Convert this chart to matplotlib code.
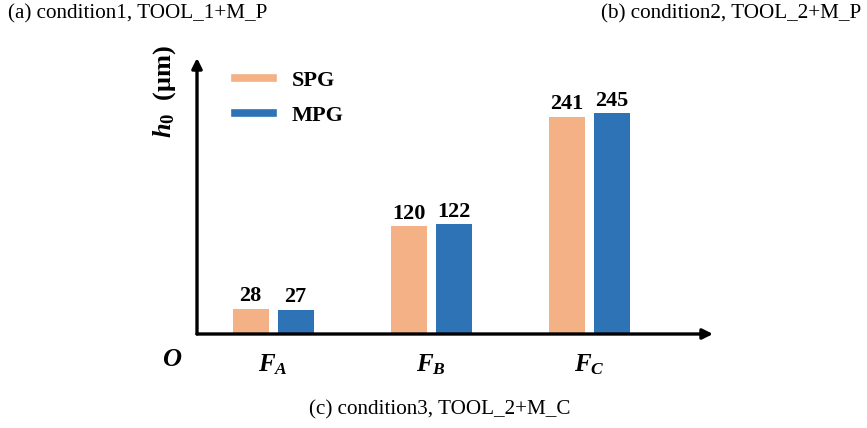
import matplotlib
matplotlib.use("Agg")
import matplotlib.pyplot as plt
import numpy as np
from matplotlib.lines import Line2D

categories = [r"$F_A$", r"$F_B$", r"$F_C$"]
spg = [28, 120, 241]
mpg = [27, 122, 245]
series_names = ["SPG", "MPG"]
colors = ["#F3B185", "#2E73B5"]

plt.rcParams['font.family'] = ['Liberation Serif', 'DejaVu Serif']
plt.rcParams['mathtext.fontset'] = 'custom'
plt.rcParams['mathtext.it'] = 'Liberation Serif:italic:bold'
plt.rcParams['mathtext.rm'] = 'Liberation Serif:bold'
plt.rcParams['mathtext.bf'] = 'Liberation Serif:bold'

W, H = 867, 428
fig = plt.figure(figsize=(W/100, H/100), dpi=100)

x0, x1 = 197, 713
yb, yt = 334, 58
ax = fig.add_axes([x0/W, (H-yb)/H, (x1-x0)/W, (yb-yt)/H])
ax.set_ylim(0, (yb-yt)/0.9017)
ax.set_xlim(-76/158, (x1-x0-76)/158)

x = np.arange(len(categories))
bw = 36/158
off = 22.5/158
ax.bar(x-off, spg, bw, color=colors[0], label=series_names[0])
ax.bar(x+off, mpg, bw, color=colors[1], label=series_names[1])
for xi, v in zip(x-off, spg):
    ax.text(xi, v+2.5, str(v), ha='center', va='bottom', fontsize=16, fontweight='bold')
for xi, v in zip(x+off, mpg):
    ax.text(xi, v+2.5, str(v), ha='center', va='bottom', fontsize=16, fontweight='bold')

for s in ax.spines.values():
    s.set_visible(False)
ax.set_yticks([])
ax.set_xticks(x)
ax.set_xticklabels(categories, fontsize=18)
ax.tick_params(axis='x', length=0, pad=13)

ax.annotate('', xy=(1, 0), xycoords='axes fraction', xytext=(0, 0),
            arrowprops=dict(arrowstyle='-|>', color='black', lw=2.4, mutation_scale=15, shrinkA=0, shrinkB=0))
ax.annotate('', xy=(0, 1), xycoords='axes fraction', xytext=(0, 0),
            arrowprops=dict(arrowstyle='-|>', color='black', lw=2.4, mutation_scale=15, shrinkA=0, shrinkB=0))

handles = [Line2D([0], [0], color=c, lw=5.5) for c in colors]
leg = ax.legend(handles, series_names, loc='upper left',
                bbox_to_anchor=((235-x0)/(x1-x0), 1-(70-yt)/(yb-yt)),
                frameon=False, handlelength=1.7, handletextpad=0.86, labelspacing=0.66,
                borderpad=0, borderaxespad=0,
                prop={'family': 'Liberation Serif', 'weight': 'bold', 'size': 16})

fig.text(172/W, 1-360/H, r"$O$", fontsize=19, ha='center', va='center')
fig.text(165/W, 1-91/H, r"$h_0$  (μm)", fontsize=19, fontweight='bold', rotation=90, ha='center', va='center')

fig.text(8/W, 1-14/H, "(a) condition1, TOOL_1+M_P", fontsize=15.2, ha='left', va='center')
fig.text(861/W, 1-14/H, "(b) condition2, TOOL_2+M_P", fontsize=15.2, ha='right', va='center')
fig.text(440/W, 1-410/H, "(c) condition3, TOOL_2+M_C", fontsize=15.2, ha='center', va='center')

fig.savefig("out.png", dpi=100)
